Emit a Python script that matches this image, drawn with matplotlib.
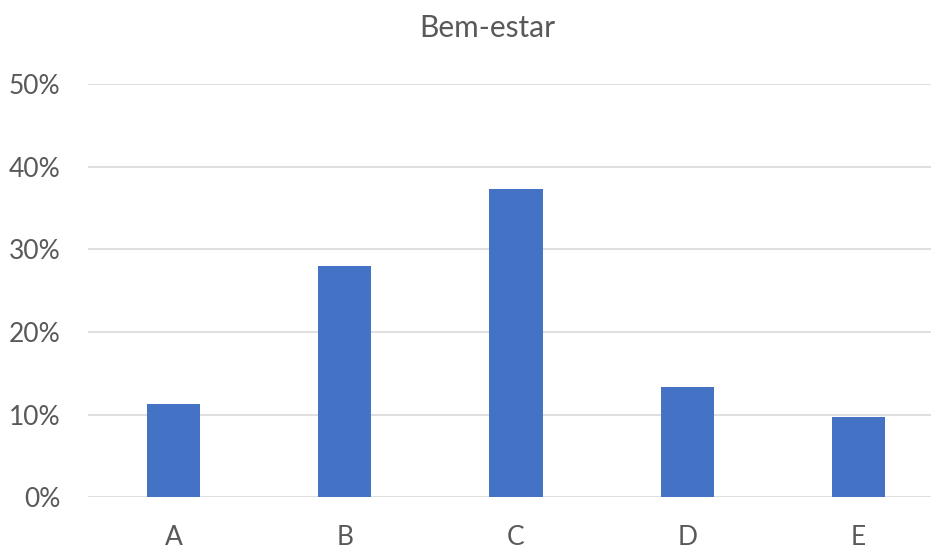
import matplotlib.pyplot as plt
from matplotlib.ticker import PercentFormatter

categories = ['A', 'B', 'C', 'D', 'E']
values = [0.1125, 0.2798, 0.373, 0.1335, 0.0968]
y_ticks = [0, 0.1, 0.2, 0.3, 0.4, 0.5]

txt_color = '#595959'
plt.rcParams['font.family'] = ['Lato', 'DejaVu Sans']

fig = plt.figure(figsize=(9.31, 5.51), dpi=100)
# plot area runs past the right edge of the figure
ax = fig.add_axes([88 / 931, (551 - 497.3) / 551, (943.9 - 88) / 931, (497.3 - 84) / 551])

x = range(len(categories))
ax.bar(x, values, width=0.311, color='#4472C4', zorder=3)

ax.set_xlim(-0.5, 4.5)
ax.set_ylim(0, 0.5)
ax.set_yticks(y_ticks)
ax.yaxis.set_major_formatter(PercentFormatter(1.0, decimals=0))
ax.set_xticks(list(x))
ax.set_xticklabels(categories)
ax.grid(axis='y', color='#d9d9d9', linewidth=1.2, zorder=0)
ax.set_axisbelow(True)
for s in ax.spines.values():
    s.set_visible(False)
ax.tick_params(axis='both', length=0, labelsize=19, colors=txt_color)
ax.tick_params(axis='y', pad=20)
ax.tick_params(axis='x', pad=20)

fig.text(487.5 / 931, 1 - 28 / 551, 'Bem-estar', ha='center', va='center',
         fontsize=21.5, color=txt_color)

fig.savefig('out.png', dpi=100)
